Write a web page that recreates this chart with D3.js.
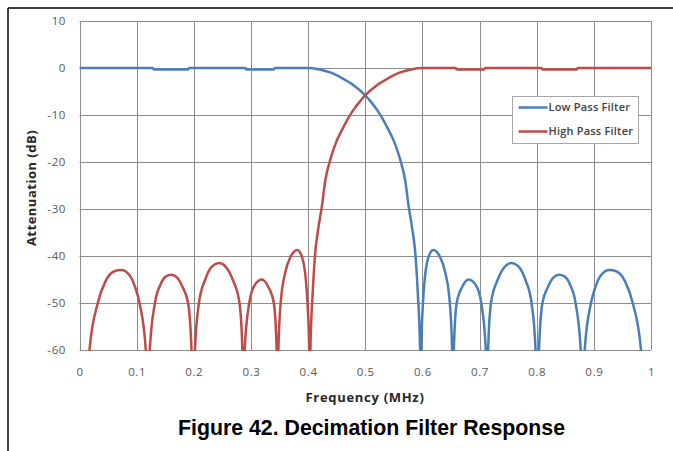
<!DOCTYPE html>
<html>
<head>
<meta charset="utf-8">
<script src="https://cdn.jsdelivr.net/npm/d3@7"></script>
<style>
  body { margin: 0; background: #fff; }
  svg { display: block; }
</style>
</head>
<body>
<svg id="chart" width="673" height="451"></svg>
<script>
// Data (frequency in MHz, attenuation in dB)
const xTicks = [0, 0.1, 0.2, 0.3, 0.4, 0.5, 0.6, 0.7, 0.8, 0.9, 1];
const xTickLabels = ["0", "0.1", "0.2", "0.3", "0.4", "0.5", "0.6", "0.7", "0.8", "0.9", "1"];
const yTicks = [10, 0, -10, -20, -30, -40, -50, -60];
const yTickLabels = ["10", "0", "-10", "-20", "-30", "-40", "-50", "-60"];
const seriesNames = ["Low Pass Filter", "High Pass Filter"];
const seriesColors = ["#4a7ebb", "#be4b48"];

const lowPassFreq = [
  0, 0.128, 0.13, 0.19, 0.192, 0.29, 0.292, 0.34, 0.342, 0.40, 0.42, 0.44, 0.46, 0.48, 0.50,
  0.51, 0.52, 0.53, 0.54, 0.55, 0.56, 0.57, 0.576, 0.582, 0.588, 0.592, 0.596, 0.597,
  0.598, 0.601, 0.604, 0.61, 0.619, 0.63, 0.64, 0.648, 0.652, 0.6535,
  0.655, 0.66, 0.67, 0.681, 0.694, 0.703, 0.711, 0.713,
  0.715, 0.72, 0.732, 0.744, 0.756, 0.768, 0.78, 0.791, 0.798, 0.801,
  0.804, 0.81, 0.82, 0.83, 0.839, 0.848, 0.858, 0.868, 0.877, 0.8805,
  0.884, 0.895, 0.903, 0.913, 0.927, 0.94, 0.955, 0.968, 0.9825, 0.988
];
const lowPassDb = [
  0, 0, -0.3, -0.3, 0, 0, -0.3, -0.3, 0, 0, -0.3, -1, -2.2, -3.7, -5.8,
  -7.2, -8.8, -10.7, -13, -15.5, -19, -24, -29.5, -34, -40, -48, -60, -75,
  -60, -50, -45, -40.5, -38.7, -40, -43.5, -50, -60, -75,
  -60, -50, -46.5, -45, -46.3, -50, -60, -75,
  -60, -50, -45, -42.3, -41.5, -42.2, -45, -50, -60, -75,
  -60, -50, -46.5, -44.5, -44, -44.3, -46, -50, -60, -75,
  -60, -50, -46.5, -44, -43, -43.3, -45.5, -50, -60, -70
];

const highPassFreq = [
  0.012, 0.0175, 0.032, 0.045, 0.06, 0.073, 0.087, 0.097, 0.105, 0.116, 0.1195,
  0.123, 0.132, 0.142, 0.152, 0.161, 0.17, 0.18, 0.19, 0.196, 0.199,
  0.202, 0.209, 0.22, 0.232, 0.244, 0.256, 0.268, 0.28, 0.285, 0.287,
  0.289, 0.297, 0.306, 0.319, 0.33, 0.34, 0.345, 0.3465,
  0.348, 0.352, 0.36, 0.37, 0.381, 0.39, 0.396, 0.399, 0.402, 0.403,
  0.404, 0.408, 0.412, 0.418, 0.424, 0.43, 0.44, 0.45, 0.46, 0.47, 0.48, 0.49, 0.50,
  0.52, 0.54, 0.56, 0.58, 0.60, 0.658, 0.66, 0.708, 0.71, 0.808, 0.81, 0.87, 0.872, 1
];
const highPassDb = [
  -70, -60, -50, -45.5, -43.3, -43, -44, -46.5, -50, -60, -75,
  -60, -50, -46, -44.3, -44, -44.5, -46.5, -50, -60, -75,
  -60, -50, -45, -42.2, -41.5, -42.3, -45, -50, -60, -75,
  -60, -50, -46.3, -45, -46.5, -50, -60, -75,
  -60, -50, -43.5, -40, -38.7, -40.5, -45, -50, -60, -75,
  -60, -48, -40, -34, -29.5, -24, -19, -15.5, -13, -10.7, -8.8, -7.2, -5.8,
  -3.7, -2.2, -1, -0.3, 0, 0, -0.3, -0.3, 0, 0, -0.3, -0.3, 0, 0
];

// Layout
const svg = d3.select("#chart");
const plot = { left: 79.5, right: 651, top: 21, bottom: 350 };

const x = d3.scaleLinear().domain([0, 1]).range([plot.left, plot.right]);
const y = d3.scaleLinear().domain([-60, 10]).range([plot.bottom, plot.top]);

// Frame lines (top and left)
svg.append("line").attr("x1", 8).attr("y1", 8).attr("x2", 673).attr("y2", 8)
  .attr("stroke", "#000").attr("stroke-width", 1.5);
svg.append("line").attr("x1", 8).attr("y1", 8).attr("x2", 8).attr("y2", 451)
  .attr("stroke", "#000").attr("stroke-width", 1.5);

// Grid
const grid = svg.append("g");
grid.selectAll(".vgrid").data(xTicks).enter().append("line")
  .attr("x1", d => Math.round(x(d)) + 0.5).attr("x2", d => Math.round(x(d)) + 0.5)
  .attr("y1", plot.top).attr("y2", plot.bottom)
  .attr("stroke", "#8c8c8c").attr("stroke-width", 1);
grid.selectAll(".hgrid").data(yTicks).enter().append("line")
  .attr("x1", plot.left).attr("x2", plot.right)
  .attr("y1", d => Math.round(y(d)) + 0.5).attr("y2", d => Math.round(y(d)) + 0.5)
  .attr("stroke", "#8c8c8c").attr("stroke-width", 1);

// Axes labels
const xAxis = d3.axisBottom(x).tickValues(xTicks)
  .tickFormat((d, i) => xTickLabels[i]).tickSize(0).tickPadding(0);
const gx = svg.append("g").attr("transform", `translate(0,${plot.bottom + 18})`).call(xAxis);
gx.select(".domain").remove();
gx.selectAll("text").attr("font-family", "Open Sans, sans-serif").attr("font-size", 11.5)
  .attr("letter-spacing", "0.6px").attr("fill", "#595959").attr("dy", "0.71em");

const yAxis = d3.axisLeft(y).tickValues(yTicks)
  .tickFormat((d, i) => yTickLabels[i]).tickSize(0).tickPadding(0);
const gy = svg.append("g").attr("transform", "translate(66,0)").call(yAxis);
gy.select(".domain").remove();
gy.selectAll("text").attr("font-family", "Open Sans, sans-serif").attr("font-size", 11.5)
  .attr("letter-spacing", "0.6px").attr("fill", "#595959");

// Series
svg.append("clipPath").attr("id", "plotclip").append("rect")
  .attr("x", plot.left).attr("y", plot.top - 5)
  .attr("width", plot.right - plot.left + 2).attr("height", plot.bottom - plot.top + 6);

const line = d3.line().x(d => x(d[0])).y(d => y(d[1])).curve(d3.curveMonotoneX);
const lowData = lowPassFreq.map((f, i) => [f, lowPassDb[i]]);
const highData = highPassFreq.map((f, i) => [f, highPassDb[i]]);

const series = svg.append("g").attr("clip-path", "url(#plotclip)");
[lowData, highData].forEach((data, i) => {
  series.append("path").datum(data)
    .attr("fill", "none")
    .attr("stroke", seriesColors[i])
    .attr("stroke-width", 2.5)
    .attr("stroke-linejoin", "round")
    .attr("d", line);
});

// Legend
const legend = svg.append("g").attr("transform", "translate(512.5,96.5)");
legend.append("rect").attr("width", 126).attr("height", 47)
  .attr("fill", "#fff").attr("stroke", "#a6a6a6").attr("stroke-width", 1);
seriesNames.forEach((name, i) => {
  const ly = 11 + i * 24;
  legend.append("line").attr("x1", 6).attr("x2", 35).attr("y1", ly).attr("y2", ly)
    .attr("stroke", seriesColors[i]).attr("stroke-width", 2.5);
  legend.append("text").attr("x", 36).attr("y", ly).attr("dy", "0.35em")
    .attr("font-family", "Open Sans, sans-serif").attr("font-size", 11)
    .attr("letter-spacing", "0.2px")
    .attr("font-weight", 600).attr("fill", "#404040").text(name);
});

// Axis titles
svg.append("text").attr("x", 365).attr("y", 402).attr("text-anchor", "middle")
  .attr("font-family", "Open Sans, sans-serif").attr("font-size", 13).attr("font-weight", 700)
  .attr("letter-spacing", "0.7px").attr("fill", "#262626").text("Frequency (MHz)");
svg.append("text").attr("transform", "translate(36,188) rotate(-90)").attr("text-anchor", "middle")
  .attr("font-family", "Open Sans, sans-serif").attr("font-size", 13).attr("font-weight", 700)
  .attr("letter-spacing", "0.5px").attr("fill", "#262626").text("Attenuation (dB)");

// Caption
svg.append("text").attr("x", 371.5).attr("y", 435).attr("text-anchor", "middle")
  .attr("font-family", "Liberation Sans, Arial, sans-serif").attr("font-size", 21.3).attr("font-weight", 700)
  .attr("fill", "#000").text("Figure 42. Decimation Filter Response");
</script>
</body>
</html>
